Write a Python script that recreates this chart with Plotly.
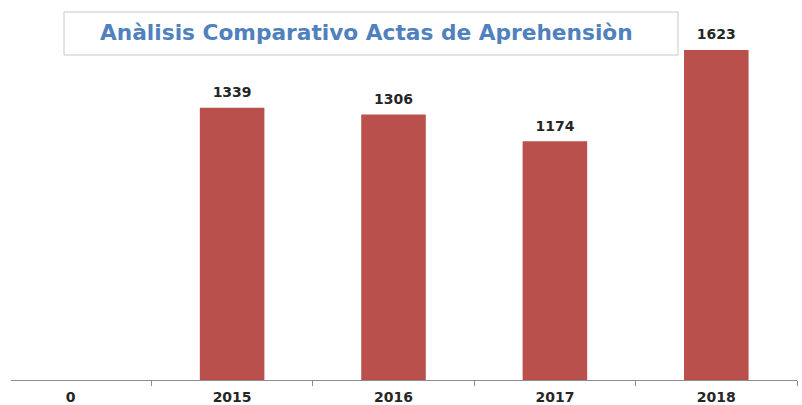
import plotly.graph_objects as go

# datos
categories = ["0", "2015", "2016", "2017", "2018"]
values = [0, 1339, 1306, 1174, 1623]
labels = [str(v) if v else "" for v in values]

title_text = "Anàlisis Comparativo Actas de Aprehensiòn"

# area del grafico (pixeles)
L, R, T, B = 11, 797, 0, 380


def px(x):
    return (x - L) / (R - L)


def py(y):
    return 1 - (y - T) / (B - T)


fig = go.Figure()

fig.add_trace(
    go.Bar(
        x=categories,
        y=values,
        marker=dict(color="#B9504C", line=dict(width=0)),
        width=0.4,
        hoverinfo="x+y",
    )
)

# etiquetas de datos (sin etiqueta para el 0)
fig.add_trace(
    go.Scatter(
        x=categories,
        y=values,
        mode="markers+text",
        text=labels,
        textposition="top center",
        marker=dict(size=10, opacity=0),
        textfont=dict(family="DejaVu Sans", size=14, color="#262626", weight="bold"),
        hoverinfo="skip",
        cliponaxis=False,
    )
)

# caja del titulo
fig.add_shape(
    type="rect",
    xref="paper",
    yref="paper",
    x0=px(64),
    x1=px(678),
    y0=py(55),
    y1=py(12),
    line=dict(color="#C8C8C8", width=1),
    fillcolor="white",
)
fig.add_annotation(
    text=title_text,
    xref="paper",
    yref="paper",
    x=px(366),
    y=py(32),
    xanchor="center",
    yanchor="middle",
    showarrow=False,
    font=dict(family="DejaVu Sans", size=21.7, color="#4F81BD", weight="bold"),
)

fig.update_layout(
    width=802,
    height=405,
    margin=dict(l=L, r=802 - R, t=T, b=405 - B, autoexpand=False),
    paper_bgcolor="white",
    plot_bgcolor="white",
    showlegend=False,
    xaxis=dict(
        type="category",
        range=[-0.37, 4.5],
        showline=True,
        linecolor="#8C8C8C",
        linewidth=1,
        ticks="outside",
        tickson="boundaries",
        ticklen=5,
        tickcolor="#8C8C8C",
        ticklabelstandoff=4,
        tickfont=dict(family="DejaVu Sans", size=14, color="#262626", weight="bold"),
        showgrid=False,
        automargin=False,
    ),
    yaxis=dict(
        range=[0, 1869],
        visible=False,
        showgrid=False,
    ),
)

fig.write_html(
    "out.html",
    config=dict(displayModeBar=False),
    post_script="document.body.style.margin='0px';",
)
